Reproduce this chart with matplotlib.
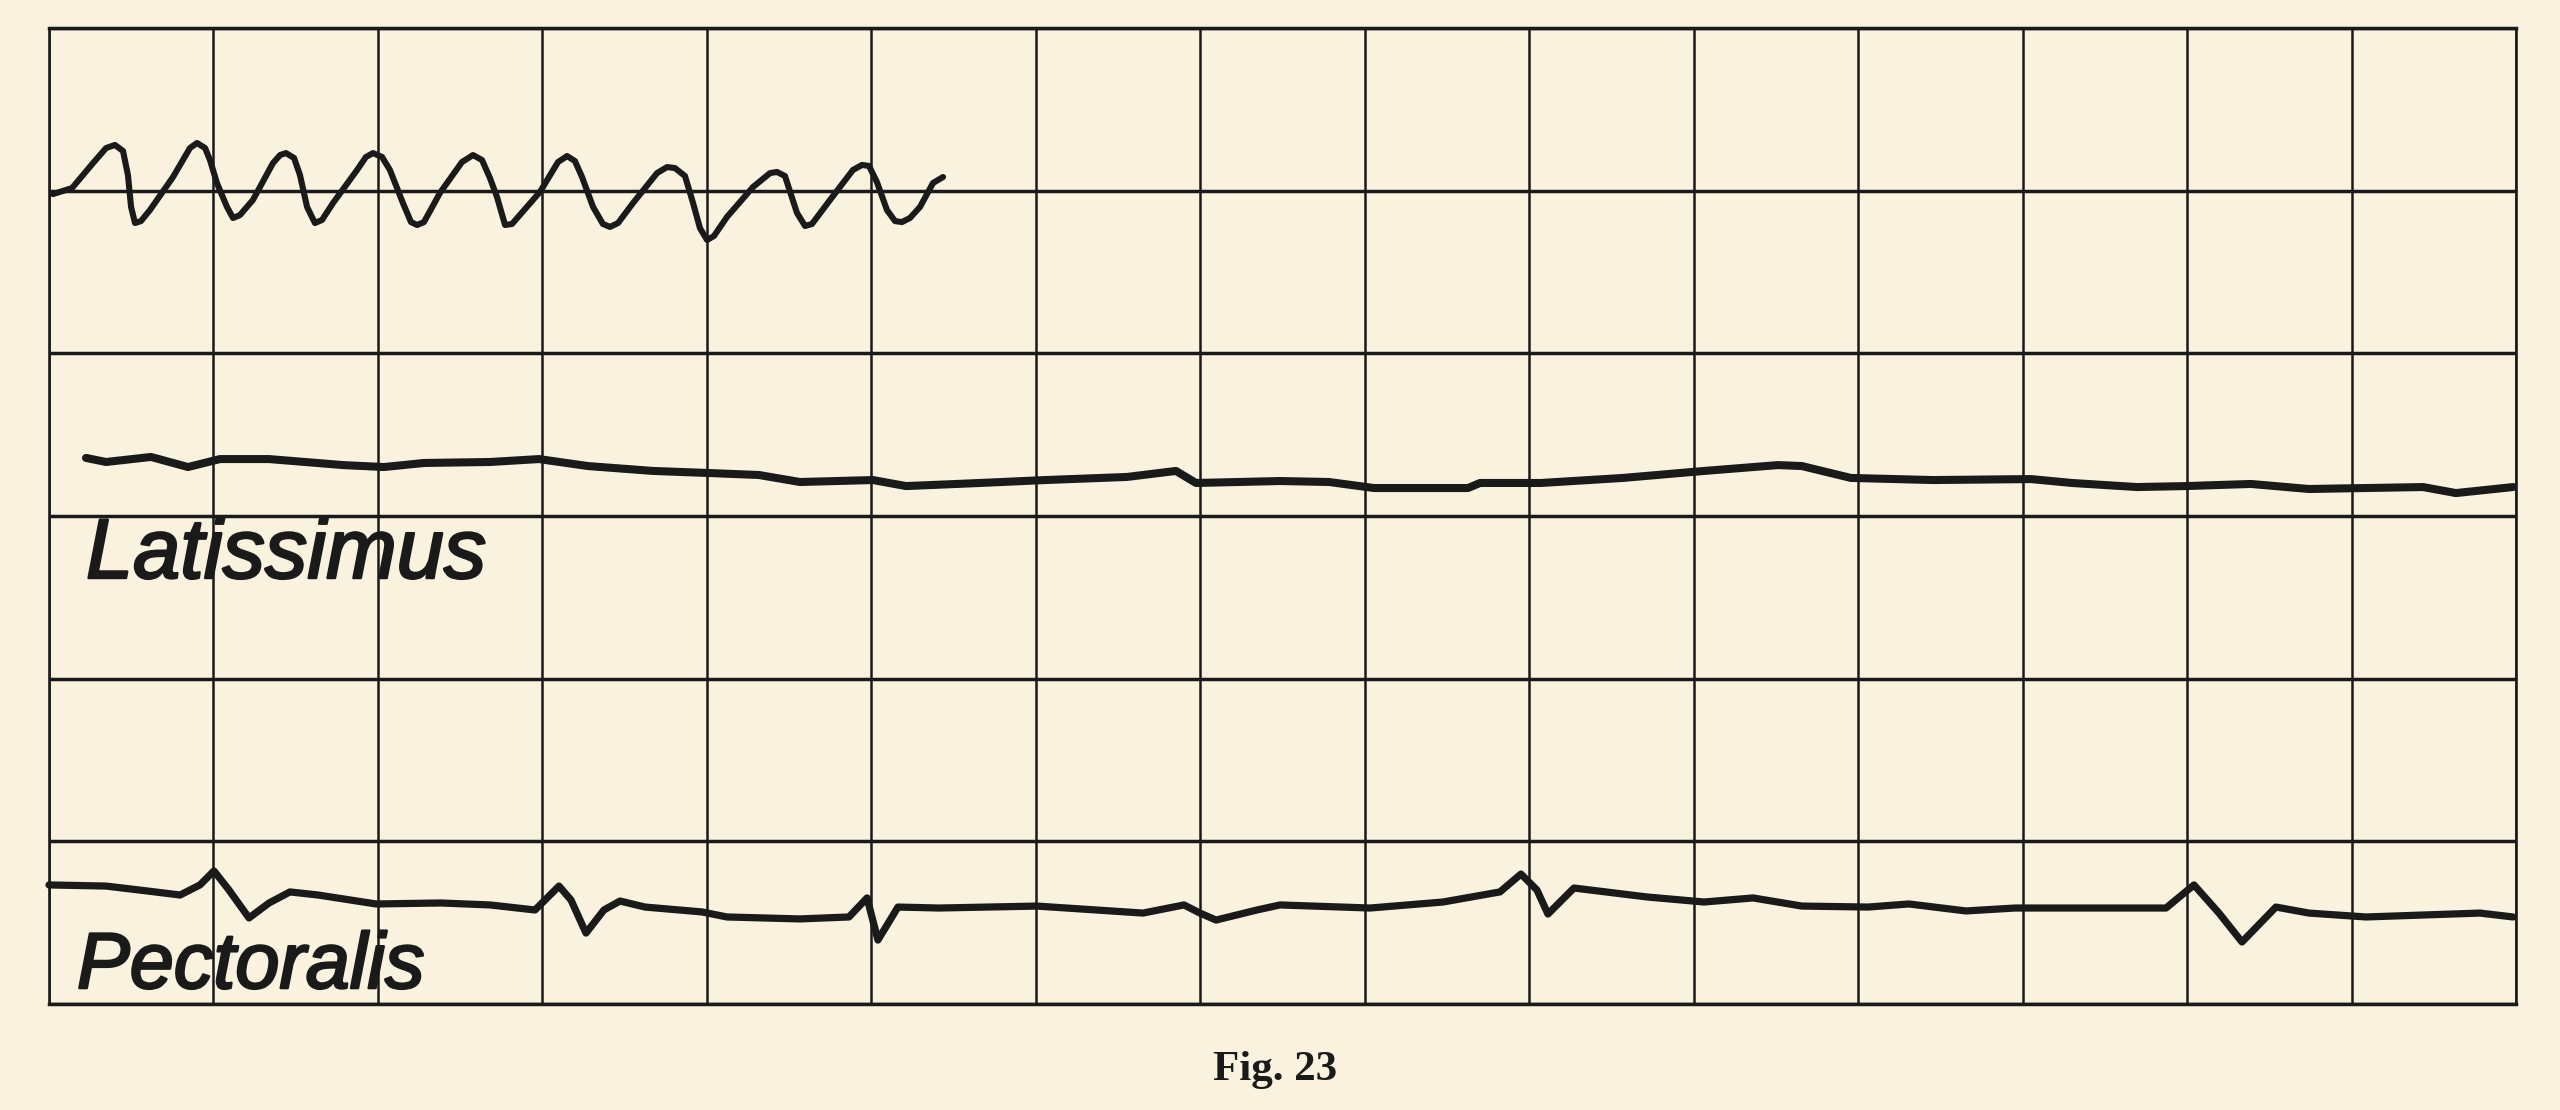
import matplotlib
matplotlib.use("Agg")
import matplotlib.pyplot as plt
import matplotlib.patheffects as pe
import numpy as np

# ---- data (grid units: x = time columns 0..15, y = rows 0..6) ----
sine_x = [0.024, 0.140, 0.268, 0.347, 0.401, 0.450, 0.480, 0.499, 0.523, 0.559,
          0.614, 0.754, 0.857, 0.900, 0.949, 0.979, 1.021, 1.082, 1.119, 1.161,
          1.240, 1.362, 1.405, 1.441, 1.490, 1.526, 1.569, 1.617, 1.660, 1.727,
          1.873, 1.927, 1.970, 2.025, 2.073, 2.152, 2.201, 2.238, 2.280, 2.377,
          2.511, 2.578, 2.633, 2.681, 2.724, 2.773, 2.815, 2.985, 3.095, 3.150,
          3.198, 3.241, 3.308, 3.368, 3.411, 3.460, 3.551, 3.697, 3.758, 3.806,
          3.867, 3.916, 3.958, 4.001, 4.043, 4.122, 4.280, 4.384, 4.426, 4.475,
          4.548, 4.597, 4.639, 4.749, 4.888, 4.943, 4.986, 5.034, 5.095, 5.144,
          5.186, 5.235, 5.296, 5.375, 5.436]
sine_y = [4.979, 5.016, 5.170, 5.262, 5.281, 5.244, 5.096, 4.900, 4.801, 4.813,
          4.881, 5.084, 5.262, 5.293, 5.262, 5.188, 5.047, 4.900, 4.832, 4.850,
          4.943, 5.170, 5.219, 5.231, 5.201, 5.096, 4.900, 4.801, 4.820, 4.924,
          5.127, 5.207, 5.231, 5.207, 5.127, 4.924, 4.807, 4.789, 4.807, 4.986,
          5.176, 5.219, 5.188, 5.078, 4.961, 4.789, 4.795, 4.992, 5.176, 5.213,
          5.182, 5.084, 4.900, 4.795, 4.777, 4.801, 4.924, 5.108, 5.145, 5.139,
          5.090, 4.924, 4.770, 4.697, 4.721, 4.838, 5.022, 5.108, 5.115, 5.090,
          4.863, 4.783, 4.795, 4.943, 5.127, 5.158, 5.152, 5.053, 4.881, 4.813,
          4.807, 4.832, 4.900, 5.047, 5.084]

lat_x = [0.225, 0.347, 0.620, 0.845, 1.040, 1.338, 1.788, 2.037, 2.280, 2.681,
         2.979, 3.277, 3.672, 4.019, 4.317, 4.566, 5.010, 5.211, 5.661, 6.056,
         6.554, 6.852, 6.974, 7.485, 7.783, 8.056, 8.628, 8.701, 9.072, 9.570,
         10.063, 10.513, 10.658, 10.956, 11.455, 12.051, 12.300, 12.695, 12.993,
         13.388, 13.741, 14.088, 14.434, 14.635, 14.982]
lat_y = [3.357, 3.332, 3.363, 3.301, 3.350, 3.350, 3.313, 3.301, 3.326, 3.332,
         3.350, 3.307, 3.277, 3.264, 3.252, 3.209, 3.221, 3.184, 3.203, 3.221,
         3.240, 3.277, 3.203, 3.215, 3.209, 3.172, 3.172, 3.203, 3.203, 3.234,
         3.277, 3.313, 3.307, 3.234, 3.221, 3.227, 3.203, 3.178, 3.184,
         3.197, 3.166, 3.172, 3.178, 3.141, 3.178]

pec_x = [0.000, 0.347, 0.596, 0.797, 0.918, 1.003, 1.094, 1.216, 1.338, 1.465,
         1.636, 1.988, 2.383, 2.681, 2.955, 3.101, 3.174, 3.265, 3.374, 3.472,
         3.624, 3.970, 4.122, 4.566, 4.864, 4.974, 5.040, 5.162, 5.411, 6.007,
         6.652, 6.901, 6.998, 7.096, 7.345, 7.485, 8.032, 8.476, 8.822, 8.950,
         9.047, 9.114, 9.272, 9.716, 10.063, 10.361, 10.658, 11.060, 11.309,
         11.655, 11.953, 12.872, 13.042, 13.194, 13.334, 13.540, 13.741, 14.088,
         14.434, 14.781, 14.982]
pec_y = [0.732, 0.725, 0.695, 0.670, 0.732, 0.818, 0.701, 0.529, 0.621, 0.689,
         0.670, 0.615, 0.621, 0.609, 0.578, 0.725, 0.639, 0.436, 0.578, 0.633,
         0.596, 0.566, 0.535, 0.523, 0.535, 0.652, 0.393, 0.596, 0.590, 0.602,
         0.559, 0.609, 0.559, 0.516, 0.578, 0.609, 0.590, 0.627, 0.689, 0.799,
         0.701, 0.553, 0.713, 0.658, 0.627, 0.652, 0.602, 0.596, 0.615,
         0.572, 0.590, 0.590, 0.732, 0.559, 0.381, 0.596, 0.559, 0.535,
         0.547, 0.559, 0.535]

labels = ["Latissimus", "Pectoralis"]
caption = "Fig. 23"
n_cols, n_rows = 15, 6

# ---- style ----
paper = "#f9f2df"
ink = "#1b1a1a"

fig = plt.figure(figsize=(25.6, 11.1), dpi=100, facecolor=paper)
ax = fig.add_axes([49/2560, 106/1110, 2467/2560, 976/1110])
ax.set_facecolor(paper)
ax.set_xlim(0, n_cols)
ax.set_ylim(0, n_rows)

ax.set_xticks(np.arange(n_cols + 1))
ax.set_yticks(np.arange(n_rows + 1))
ax.tick_params(length=0, labelbottom=False, labelleft=False)
ax.xaxis.grid(True, color=ink, linewidth=1.8)
ax.yaxis.grid(True, color=ink, linewidth=2.5)
ax.set_axisbelow(True)
for side, sp in ax.spines.items():
    sp.set_color(ink)
    sp.set_linewidth(2.5 if side in ("top", "bottom") else 1.9)

kw = dict(color=ink, solid_joinstyle="round", solid_capstyle="round", clip_on=False)
ax.plot(sine_x, sine_y, linewidth=4.4, **kw)
ax.plot(lat_x, lat_y, linewidth=5.8, **kw)
ax.plot(pec_x, pec_y, linewidth=5.2, **kw)

fx = [pe.withStroke(linewidth=1.8, foreground=ink)]
ax.text(0.225, 2.619, labels[0], fontsize=61, style="italic",
        family=["Liberation Sans", "DejaVu Sans"], color=ink,
        ha="left", va="baseline", path_effects=fx)
ax.text(0.170, 0.098, labels[1], fontsize=57, style="italic",
        family=["Liberation Sans", "DejaVu Sans"], color=ink,
        ha="left", va="baseline", path_effects=fx)

fig.text(1275/2560, (1110-1080)/1110, caption, fontsize=31, fontweight="bold",
         family=["Liberation Serif", "DejaVu Serif"], color=ink,
         ha="center", va="baseline")

fig.savefig("out.png", dpi=100, facecolor=paper)
